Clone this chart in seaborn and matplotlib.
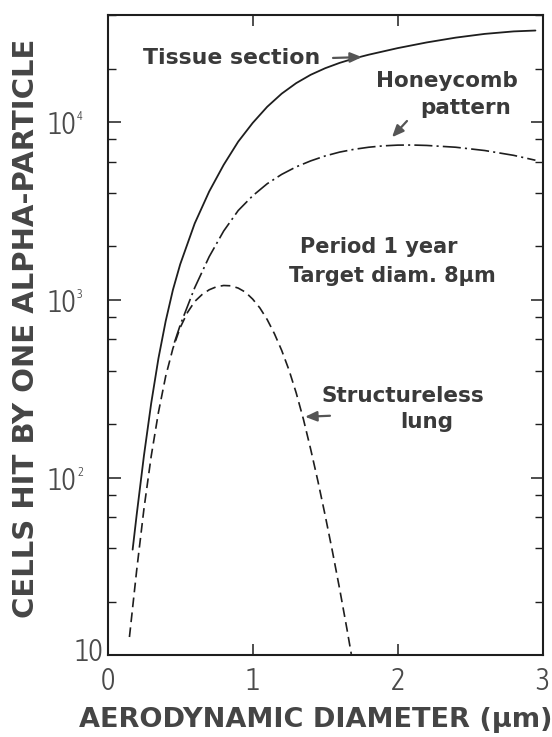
import os
import numpy as np
import pandas as pd
import matplotlib
matplotlib.use("Agg")
import matplotlib.pyplot as plt
import seaborn as sns
from matplotlib import font_manager
from matplotlib.font_manager import FontProperties
from matplotlib.ticker import LogLocator, NullFormatter

# ---------------- data ----------------
tissue_x = [0.172, 0.20, 0.25, 0.30, 0.35, 0.40, 0.45, 0.50, 0.60, 0.70, 0.80, 0.90, 1.00,
            1.10, 1.20, 1.30, 1.40, 1.50, 1.60, 1.70, 1.80, 2.00, 2.20, 2.40, 2.60, 2.80, 2.95]
tissue_y = [39.4, 62, 133, 262, 469, 760, 1140, 1585, 2690, 4070, 5750, 7760, 9890,
            12190, 14450, 16560, 18450, 20090, 21530, 22800, 23930, 26060, 28050, 29850,
            31330, 32360, 32730]

honey_x = [0.46, 0.50, 0.60, 0.70, 0.80, 0.90, 1.00, 1.10, 1.20, 1.30, 1.40, 1.50,
           1.60, 1.70, 1.80, 1.90, 2.00, 2.10, 2.20, 2.40, 2.60, 2.80, 2.95]
honey_y = [575, 721, 1170, 1750, 2440, 3180, 3850, 4500, 5080, 5600, 6050, 6450,
           6780, 7030, 7220, 7350, 7420, 7430, 7390, 7220, 6920, 6500, 6100]

struct_x = [0.15, 0.20, 0.25, 0.30, 0.35, 0.40, 0.45, 0.50, 0.55, 0.60, 0.65, 0.70,
            0.75, 0.80, 0.85, 0.90, 0.95, 1.00, 1.05, 1.10, 1.15, 1.20, 1.25, 1.30,
            1.35, 1.40, 1.45, 1.50, 1.55, 1.60, 1.65, 1.68]
struct_y = [12.7, 30.2, 66.8, 132, 233, 372, 534, 698, 849, 979, 1070, 1140,
            1185, 1205, 1200, 1165, 1105, 1010, 900, 775, 645, 520, 404, 300,
            213, 144.5, 95.5, 61.3, 38.5, 23.6, 14.1, 10.2]

x_ticks = [0, 1, 2, 3]
x_tick_labels = ["0", "1", "2", "3"]
y_ticks = [10, 100, 1000, 10000]
y_tick_labels = ["", "10", "10", "10"]
y_exponents = ["", "2", "3", "4"]

# ---------------- fonts ----------------
sns.set_style("ticks")
plt.rcParams["font.family"] = ["DejaVu Sans"]
plt.rcParams["lines.scale_dashes"] = False


def pick_narrow_font():
    best, best_score = None, -1
    for f in font_manager.fontManager.ttflist:
        nm = f.name.lower()
        fn = os.path.basename(f.fname).lower()
        if f.style != "normal" or "italic" in fn:
            continue
        if any(k in nm or k in fn for k in ("mono", "cjk", "math", "symbol", "serif")):
            continue
        w = f.weight
        if isinstance(w, str):
            w = font_manager.weight_dict.get(w, 400)
        if w >= 600:
            continue
        txt = nm + " " + fn + " " + str(f.stretch)
        if "narrow" in txt or "condensed" in txt:
            if "extra" in txt or "ultra" in txt:
                s = 5
            elif "semi" in txt:
                s = 8
            else:
                s = 10
        else:
            continue
        s += {300: 3, 400: 2, 200: 1, 500: 1}.get(int(w), 0)
        if s > best_score:
            best, best_score = f, s
    if best is not None:
        return best.fname
    rob = [f for f in font_manager.fontManager.ttflist
           if f.name == "Roboto" and f.style == "normal"]
    for target in (300, 400):
        for f in rob:
            w = f.weight if not isinstance(f.weight, str) else font_manager.weight_dict.get(f.weight, 400)
            if int(w) == target:
                return f.fname
    return None


narrow_path = pick_narrow_font()


def tick_fp(size):
    if narrow_path:
        return FontProperties(fname=narrow_path, size=size)
    return FontProperties(family="DejaVu Sans", size=size)


INK = "#1e1e1e"
TXT = "#3a3a3a"
TICKTXT = "#4a4a4a"

fig = plt.figure(figsize=(5.52, 7.37), dpi=100)
ax = fig.add_axes([0.1951, 0.1106, 0.7880, 0.8690])

df_t = pd.DataFrame({"x": tissue_x, "y": tissue_y})
df_h = pd.DataFrame({"x": honey_x, "y": honey_y})
df_s = pd.DataFrame({"x": struct_x, "y": struct_y})

sns.lineplot(data=df_t, x="x", y="y", ax=ax, color=INK, lw=1.3, estimator=None)
sns.lineplot(data=df_h, x="x", y="y", ax=ax, color=INK, lw=1.2, estimator=None,
             linestyle=(0, (13, 3, 1.5, 3)))
sns.lineplot(data=df_s, x="x", y="y", ax=ax, color=INK, lw=1.2, estimator=None,
             linestyle=(0, (7, 3.8)))

ax.set_yscale("log")
ax.set_xlim(0, 3)
ax.set_ylim(10, 4.0e4)
ax.set_xlabel("")
ax.set_ylabel("")

for sp in ax.spines.values():
    sp.set_visible(True)
    sp.set_linewidth(1.5)
    sp.set_color(INK)

TICK_SIZE = 22
ax.set_xticks(x_ticks)
ax.set_xticklabels(x_tick_labels, color=TICKTXT, fontproperties=tick_fp(TICK_SIZE))
ax.set_yticks(y_ticks)
ax.set_yticklabels(y_tick_labels, color=TICKTXT, fontproperties=tick_fp(TICK_SIZE))
ax.yaxis.set_minor_locator(LogLocator(base=10, subs=(2, 4, 6, 8)))
ax.yaxis.set_minor_formatter(NullFormatter())

ax.tick_params(axis="x", which="major", direction="in", length=8, width=1.1,
               top=True, bottom=True, pad=7.5, color=INK)
ax.tick_params(axis="y", which="major", direction="in", length=9, width=1.1,
               left=True, right=True, pad=22.5, color=INK)
ax.tick_params(axis="y", which="minor", direction="in", length=5.5, width=1.0,
               left=True, right=True, color=INK)

# exponents of the y tick labels
for val, ex in zip(y_ticks, y_exponents):
    if ex:
        ax.annotate(ex, xy=(0, val), xycoords=("axes fraction", "data"),
                    xytext=(-22.0, 8.4), textcoords="offset points",
                    ha="left", va="top", color=TICKTXT, fontproperties=tick_fp(9))
# bottom "10" label sits in the corner
ax.annotate("10", xy=(0, 10), xycoords=("axes fraction", "data"),
            xytext=(-3, 2.5), textcoords="offset points",
            ha="right", va="center", color=TICKTXT, fontproperties=tick_fp(TICK_SIZE))

# ---------------- annotations ----------------
tkw = dict(fontweight="bold", color=TXT)
ax.text(0.243, 21200, "Tissue section", ha="left", va="baseline", fontsize=15.8, **tkw)
ax.text(2.34, 15740, "Honeycomb", ha="center", va="baseline", fontsize=15.5, **tkw)
ax.text(2.47, 11090, "pattern", ha="center", va="baseline", fontsize=15.5, **tkw)
ax.text(1.866, 1828, "Period 1 year", ha="center", va="baseline", fontsize=15, **tkw)
ax.text(1.96, 1256, "Target diam. 8\u03bcm", ha="center", va="baseline", fontsize=15, **tkw)
ax.text(2.036, 265, "Structureless", ha="center", va="baseline", fontsize=15.5, **tkw)
ax.text(2.202, 191, "lung", ha="center", va="baseline", fontsize=15.5, **tkw)

akw = dict(arrowstyle="-|>,head_length=0.7,head_width=0.3", color="#555555", lw=1.6,
           shrinkA=0, shrinkB=0)
ax.annotate("", xy=(1.754, 23200), xytext=(1.554, 22950), arrowprops=akw)
ax.annotate("", xy=(1.961, 8220), xytext=(2.064, 10140), arrowprops=akw)
ax.annotate("", xy=(1.361, 220), xytext=(1.533, 223), arrowprops=akw)

# ---------------- axis titles ----------------
fig.text(316 / 552, 1 - 720 / 737, "AERODYNAMIC DIAMETER (\u03bcm)", ha="center",
         va="center", fontsize=19.5, fontweight="bold", color="#454545")
fig.text(26 / 552, 1 - 328 / 737, "CELLS HIT BY ONE ALPHA-PARTICLE", ha="center",
         va="center", rotation=90, fontsize=21, fontweight="bold", color="#454545")

fig.savefig("out.png", dpi=100)
